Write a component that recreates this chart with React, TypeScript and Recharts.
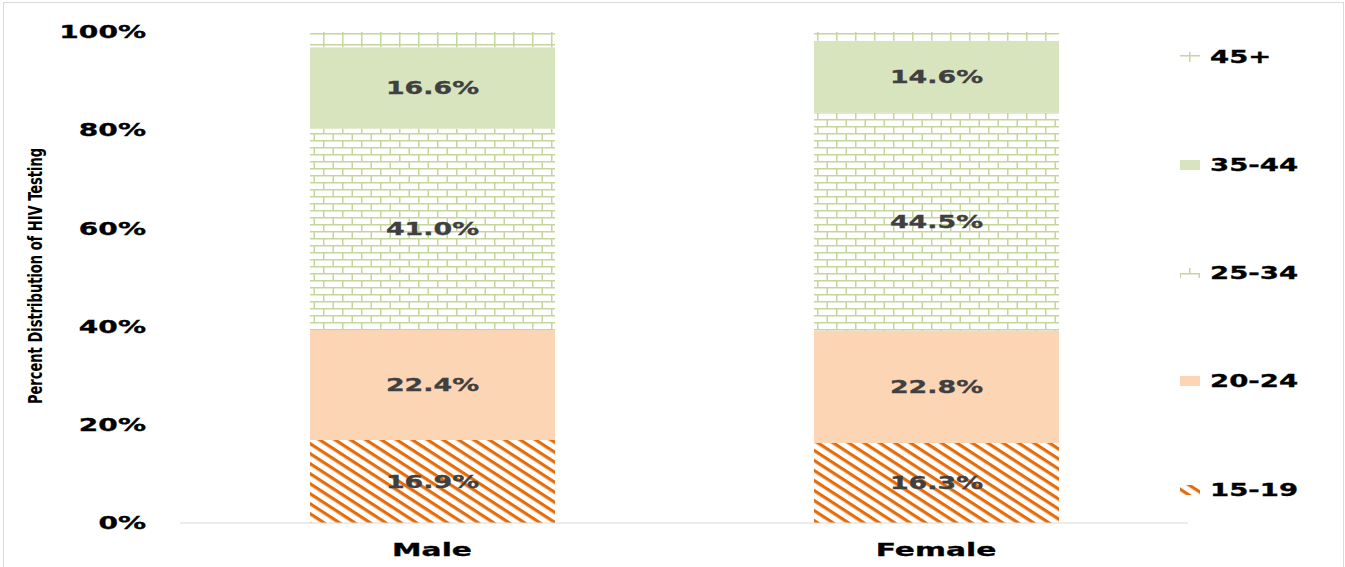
import React from "react";
import { Bar, BarChart, LabelList, XAxis, YAxis } from "recharts";

const CATEGORIES = ["Male", "Female"];
const AGE_15_19 = [16.9, 16.3];
const AGE_20_24 = [22.4, 22.8];
const AGE_25_34 = [41.0, 44.5];
const AGE_35_44 = [16.6, 14.6];
const AGE_45_PLUS = [3.1, 1.8];
const Y_TICKS = [0, 20, 40, 60, 80, 100];
const Y_TITLE = "Percent Distribution of HIV Testing";

// fills: solid colours or pattern ids defined below
const ORANGE = "#E46C0A";
const PEACH = "#FCD5B5";
const GREEN_LINE = "#C3D69B";
const GREEN_FILL = "#D7E4BD";

const SERIES = [
  { key: "a15", name: "15-19", values: AGE_15_19, fill: "url(#stripes)", label: true },
  { key: "a20", name: "20-24", values: AGE_20_24, fill: PEACH, label: true },
  { key: "a25", name: "25-34", values: AGE_25_34, fill: "url(#bricks)", label: true },
  { key: "a35", name: "35-44", values: AGE_35_44, fill: GREEN_FILL, label: true },
  { key: "a45", name: "45+", values: AGE_45_PLUS, fill: "url(#grid)", label: false },
];

const data = CATEGORIES.map((name, i) => {
  const row: Record<string, any> = { name };
  SERIES.forEach((s) => (row[s.key] = s.values[i]));
  return row;
});

const FONT = "'DejaVu Sans', Verdana, sans-serif";

// the reference text is stretched horizontally, so each label gets a scaleX
function WideText({ x, y, text, anchor = "middle", size = 17, sx = 1.5, fill = "#000" }: any) {
  return (
    <text
      transform={`translate(${x},${y}) scale(${sx},1)`}
      textAnchor={anchor}
      dominantBaseline="central"
      fontFamily={FONT}
      fontWeight="bold"
      fontSize={size}
      fill={fill}
      stroke={fill}
      strokeWidth={0.3}
    >
      {text}
    </text>
  );
}

const YTick = ({ x, y, payload }: any) => (
  <WideText x={x} y={y} text={`${payload.value}%`} anchor="end" size={17} sx={1.65} />
);

const XTick = ({ x, payload }: any) => (
  <WideText x={x} y={550} text={payload.value} size={17} sx={1.75} />
);

const SegmentLabel = (props: any) => {
  const { x, y, width, height, value } = props;
  if (value == null) return null;
  return (
    <WideText
      x={x + width / 2}
      y={y + height / 2}
      text={`${Number(value).toFixed(1)}%`}
      size={17}
      sx={1.58}
      fill="#404040"
    />
  );
};

const YTitle = () => (
  <text
    transform="translate(35,276) rotate(-90) scale(1,1.4)"
    textAnchor="middle"
    dominantBaseline="central"
    fontFamily="'Liberation Sans Narrow', 'DejaVu Sans Condensed', sans-serif"
    fontWeight="bold"
    fontSize={14.5}
    fill="#000"
  >
    {Y_TITLE}
  </text>
);

const LEGEND_Y = [490, 381, 273, 165, 57];

export default function App() {
  return (
    <div
      style={{
        position: "absolute",
        left: 0,
        top: 0,
        width: 1345,
        height: 567,
        overflow: "hidden",
        background: "#fff",
      }}
    >
      <div
        style={{
          position: "absolute",
          left: 3,
          top: 2,
          width: 1341,
          height: 580,
          border: "1px solid #D9D9D9",
          boxSizing: "border-box",
        }}
      />
      <BarChart
        width={1345}
        height={567}
        data={data}
        margin={{ top: 32, right: 157, bottom: 0, left: 0 }}
        style={{ position: "absolute", left: 0, top: 0 }}
      >
        <defs>
          <pattern
            id="stripes"
            patternUnits="userSpaceOnUse"
            width="9"
            height="8.4"
            patternTransform="rotate(33)"
          >
            <rect width="9" height="8.4" fill="#fff" />
            <rect y="0" width="9" height="3.2" fill={ORANGE} />
          </pattern>
          <pattern id="bricks" patternUnits="userSpaceOnUse" width="19" height="14">
            <rect width="19" height="14" fill="#fff" />
            <path
              d="M0 0.75H19M0 7.75H19M0.75 0V7M10.25 7V14"
              stroke={GREEN_LINE}
              strokeWidth="1.5"
              fill="none"
            />
          </pattern>
          <pattern id="grid" patternUnits="userSpaceOnUse" width="19" height="11">
            <rect width="19" height="11" fill="#fff" />
            <path d="M0 0.75H19M0.75 0V11" stroke={GREEN_LINE} strokeWidth="1.5" fill="none" />
          </pattern>
        </defs>
        <XAxis
          dataKey="name"
          height={44}
          tickLine={false}
          tickSize={0}
          axisLine={{ stroke: "#D9D9D9" }}
          tick={<XTick />}
        />
        <YAxis
          width={180}
          domain={[0, 100]}
          ticks={Y_TICKS}
          tickLine={false}
          tickSize={0}
          tickMargin={34}
          axisLine={false}
          tick={<YTick />}
          label={<YTitle />}
        />
        {SERIES.map((s) => (
          <Bar
            key={s.key}
            dataKey={s.key}
            name={s.name}
            stackId="a"
            fill={s.fill}
            barSize={245}
            isAnimationActive={false}
          >
            {s.label && <LabelList dataKey={s.key} content={<SegmentLabel />} />}
          </Bar>
        ))}
      </BarChart>
      <svg
        width={170}
        height={567}
        style={{ position: "absolute", left: 1170, top: 0 }}
      >
        {SERIES.map((s, i) => (
          <g key={s.key}>
            <rect x={10} y={LEGEND_Y[i] - 5} width={20} height={10} fill={s.fill} />
            <WideText x={40} y={LEGEND_Y[i]} text={s.name} anchor="start" size={17} sx={1.62} />
          </g>
        ))}
      </svg>
    </div>
  );
}
